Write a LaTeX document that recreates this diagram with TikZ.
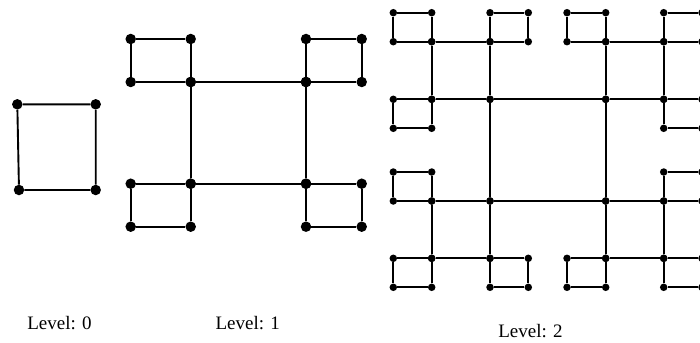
\documentclass[tikz,border=0pt]{standalone}
\usepackage{fontspec}
\setmainfont{Liberation Serif}
\begin{document}
\begin{tikzpicture}[
    x=1pt, y=-1pt,
    vertex/.style={circle, fill=black, inner sep=0pt, minimum size=10.5pt},
    smallvertex/.style={vertex, minimum size=7.5pt},
    edge/.style={line width=1.9pt},
    thinedge/.style={line width=1.7pt},
    levellabel/.style={font=\fontsize{19}{22}\selectfont, anchor=base}
]
\useasboundingbox (0,0) rectangle (700,342);
\clip (0,0) rectangle (700,342);

% level 0
\node[vertex] (z-tl) at (17.3,104.3) {};
\node[vertex] (z-tr) at (95.7,104.3) {};
\node[vertex] (z-bl) at (19,190) {};
\node[vertex] (z-br) at (95.7,190) {};
\draw[edge] (z-tl) -- (z-tr) -- (z-br) -- (z-bl) -- (z-tl);

% level 1 and level 2 squares
\foreach \xa/\ya/\xb/\yb/\sq/\sty/\ln in {
    190.7/82/306/183.7/a/vertex/edge,
    130.7/39/190.7/82/a1/vertex/edge,
    306/39/361.7/82/a2/vertex/edge,
    130.7/183.7/190.7/226.7/a3/vertex/edge,
    306/183.7/361.7/226.7/a4/vertex/edge,
    490/99.3/605.7/201/b/smallvertex/thinedge,
    431.7/41.7/490/99.3/b1/smallvertex/thinedge,
    605.7/41.7/663.7/99.3/b2/smallvertex/thinedge,
    431.7/201/490/258.3/b3/smallvertex/thinedge,
    605.7/201/663.7/258.3/b4/smallvertex/thinedge,
    393.3/12.7/431.7/41.7/c1/smallvertex/thinedge,
    490/12.7/528.3/41.7/c2/smallvertex/thinedge,
    393.3/99.3/431.7/128.3/c3/smallvertex/thinedge,
    567/12.7/605.7/41.7/c4/smallvertex/thinedge,
    663.7/12.7/702/41.7/c5/smallvertex/thinedge,
    663.7/99.3/702/128.3/c6/smallvertex/thinedge,
    393.3/172/431.7/201/c7/smallvertex/thinedge,
    393.3/258.3/431.7/287.3/c8/smallvertex/thinedge,
    490/258.3/528.3/287.3/c9/smallvertex/thinedge,
    663.7/172/702/201/c10/smallvertex/thinedge,
    567/258.3/605.7/287.3/c11/smallvertex/thinedge,
    663.7/258.3/702/287.3/c12/smallvertex/thinedge} {
  \node[\sty] (\sq-tl) at (\xa,\ya) {};
  \node[\sty] (\sq-tr) at (\xb,\ya) {};
  \node[\sty] (\sq-bl) at (\xa,\yb) {};
  \node[\sty] (\sq-br) at (\xb,\yb) {};
  \draw[\ln] (\sq-tl) -- (\sq-tr) -- (\sq-br) -- (\sq-bl) -- (\sq-tl);
}

% labels
\node[levellabel] (lab0) at (59.5,329) {Level: 0};
\node[levellabel] (lab1) at (247.8,329) {Level: 1};
\node[levellabel] (lab2) at (530.5,337.3) {Level: 2};
\end{tikzpicture}
\end{document}
